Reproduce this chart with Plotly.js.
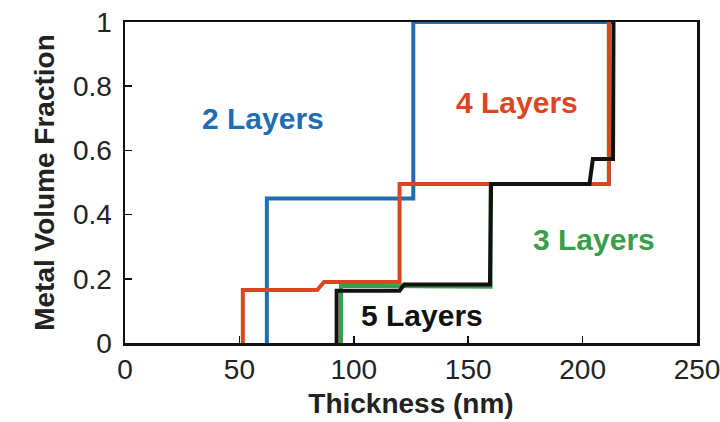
<!DOCTYPE html>
<html>
<head>
<meta charset="utf-8">
<script src="https://cdn.plot.ly/plotly-3.0.1.min.js"></script>
<style>html,body{margin:0;padding:0;background:#fff;}#chart{width:720px;height:422px;}</style>
</head>
<body>
<div id="chart"></div>
<script>
// Thickness (nm) vs metal volume fraction step profiles
var x2 = [62, 62, 126, 126, 213];
var y2 = [0, 0.45, 0.45, 1, 1];

var x4 = [51.5, 51.5, 84, 87, 120, 120, 211.5, 211.5];
var y4 = [0, 0.165, 0.165, 0.19, 0.19, 0.495, 0.495, 1];

var x3 = [94.4, 94.4, 159.8, 159.8, 211.5, 211.5];
var y3 = [0, 0.178, 0.175, 0.495, 0.495, 1];

var x5 = [92.5, 92.5, 120, 122, 159.5, 160, 203, 204.5, 213.3, 213.5];
var y5 = [0, 0.163, 0.163, 0.182, 0.182, 0.495, 0.495, 0.573, 0.573, 1];

var labelText = ["2 Layers", "4 Layers", "3 Layers", "5 Layers"];
var labelX = [60.3, 171.3, 204.8, 129.8];
var labelY = [0.698, 0.748, 0.321, 0.087];

var xTicks = [0, 50, 100, 150, 200, 250];
var yTicks = [0, 0.2, 0.4, 0.6, 0.8, 1];
var yTickText = ["0", "0.2", "0.4", "0.6", "0.8", "1"];

var cBlue = "#1f6db4", cRed = "#d9461f", cGreen = "#3a9d4c", cBlack = "#111111";
var labelColors = [cBlue, cRed, cGreen, cBlack];

var traces = [
  {x: x3, y: y3, mode: "lines", line: {color: cGreen, width: 4}},
  {x: x2, y: y2, mode: "lines", line: {color: cBlue, width: 4}},
  {x: x4, y: y4, mode: "lines", line: {color: cRed, width: 4}},
  {x: x5, y: y5, mode: "lines", line: {color: cBlack, width: 4}}
];

var fam = "Liberation Sans, Arial, sans-serif";
var annotations = labelText.map(function(t, i){
  return {x: labelX[i], y: labelY[i], xref: "x", yref: "y", text: "<b>" + t + "</b>",
    showarrow: false, font: {family: fam, size: 30, color: labelColors[i]}};
});

var layout = {
  width: 720, height: 422,
  margin: {l: 125, r: 23, t: 22, b: 79},
  showlegend: false,
  paper_bgcolor: "#fff", plot_bgcolor: "#fff",
  font: {family: fam, size: 28, color: "#222"},
  xaxis: {
    range: [0, 250], tickvals: xTicks, ticktext: xTicks.map(String), ticklabeloverflow: "allow",
    showgrid: false, zeroline: false, showline: true, mirror: true,
    linecolor: "#111", linewidth: 2.5, ticks: "inside", ticklen: 7, tickwidth: 1.5, tickcolor: "#111",
    tickfont: {family: fam, size: 28, color: "#222"},
    title: {text: "<b>Thickness (nm)</b>", font: {family: fam, size: 28, color: "#222"}, standoff: 10}
  },
  yaxis: {
    range: [0, 1], tickvals: yTicks, ticktext: yTickText, ticklabeloverflow: "allow",
    showgrid: false, zeroline: false, showline: true, mirror: true,
    linecolor: "#111", linewidth: 2.5, ticks: "inside", ticklen: 7, tickwidth: 1.5, tickcolor: "#111",
    tickfont: {family: fam, size: 28, color: "#222"}, ticklabelstandoff: 5,
    title: {text: "<b>Metal Volume Fraction</b>", font: {family: fam, size: 28, color: "#222"}, standoff: 10}
  },
  annotations: annotations
};

Plotly.newPlot("chart", traces, layout, {staticPlot: true, displayModeBar: false});
</script>
</body>
</html>
